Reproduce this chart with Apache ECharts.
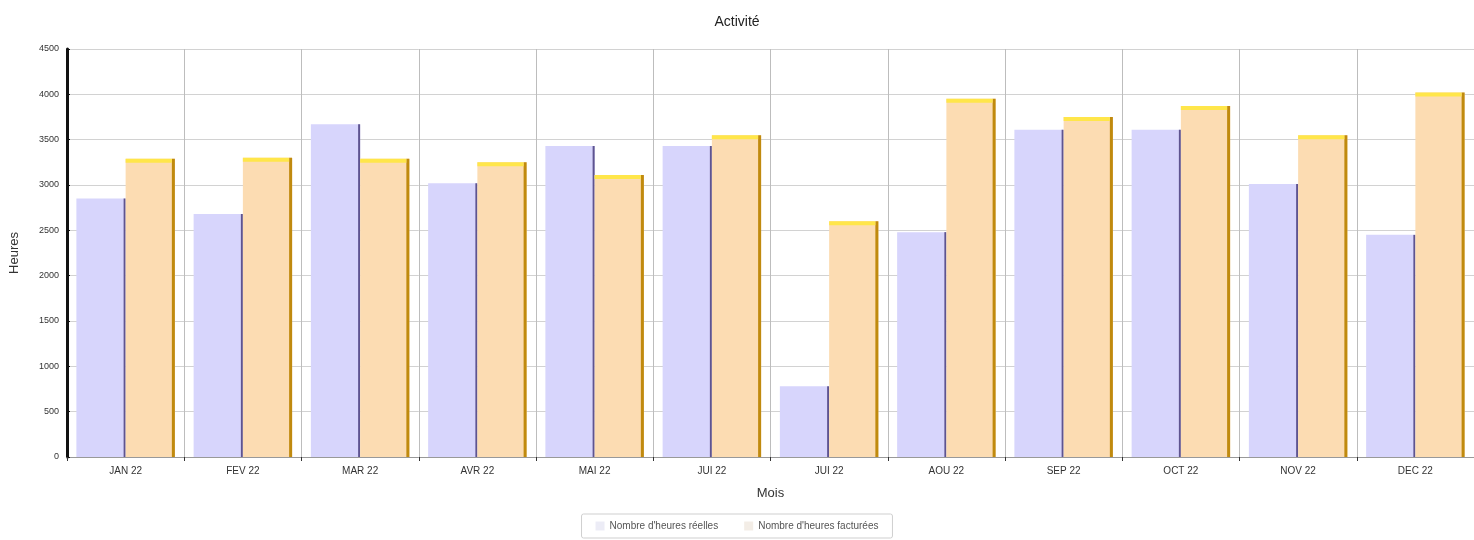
<!DOCTYPE html>
<html lang="fr">
<head>
  <meta charset="UTF-8">
  <title>Activité</title>
  <script src="https://cdn.jsdelivr.net/npm/echarts@6.0.0/dist/echarts.min.js"></script>
  <style>
    body { margin: 0; background: #fff; }
    #chart { width: 1474px; height: 540px; }
  </style>
</head>
<body>
  <div id="chart"></div>
  <script>
    // données
    const mois = ['JAN 22', 'FEV 22', 'MAR 22', 'AVR 22', 'MAI 22', 'JUI 22', 'JUI 22', 'AOU 22', 'SEP 22', 'OCT 22', 'NOV 22', 'DEC 22'];
    const heuresReelles = [2850, 2680, 3670, 3020, 3430, 3430, 780, 2480, 3610, 3610, 3010, 2450];
    const heuresFacturees = [3290, 3300, 3290, 3250, 3110, 3550, 2600, 3950, 3750, 3870, 3550, 4020];
    const yTicks = { min: 0, max: 4500, interval: 500 };

    const couleurs = [
      { fill: '#d7d5fc', edge: '#5e5490', edgeW: 2, top: null },
      { fill: '#fcdcb2', edge: '#c08a0e', edgeW: 3, top: '#ffe64a' }
    ];

    // barres avec effet "3D" : bord droit foncé + liseré en haut
    function renderBar(idx) {
      return function (params, api) {
        const c = couleurs[idx];
        const x = api.value(0), v = api.value(1);
        const top = api.coord([x, v]);
        const base = api.coord([x, 0]);
        const bandW = api.size([1, 0])[0];
        const barW = bandW * 0.42;
        const x0 = idx === 0 ? base[0] - barW : base[0];
        const h = base[1] - top[1];
        const children = [
          { type: 'rect', shape: { x: x0, y: top[1], width: barW, height: h }, style: { fill: c.fill } },
          { type: 'rect', shape: { x: x0 + barW - c.edgeW, y: top[1], width: c.edgeW, height: h }, style: { fill: c.edge } }
        ];
        if (c.top) {
          children.push({ type: 'rect', shape: { x: x0, y: top[1], width: barW - c.edgeW, height: 4 }, style: { fill: c.top } });
        }
        return { type: 'group', children: children };
      };
    }

    const chart = echarts.init(document.getElementById('chart'));
    chart.setOption({
      animation: false,
      title: {
        text: 'Activité',
        left: 'center',
        top: 10,
        textStyle: { fontSize: 14, fontWeight: 'normal', color: '#222', fontFamily: 'Liberation Sans' }
      },
      legend: {
        bottom: 2,
        left: 'center',
        itemWidth: 9,
        itemHeight: 9,
        itemGap: 26,
        padding: [7, 14],
        borderColor: '#cfcfcf',
        borderWidth: 1,
        borderRadius: 2,
        textStyle: { fontSize: 10, color: '#555', fontFamily: 'Liberation Sans' },
        data: [
          { name: "Nombre d'heures réelles", icon: 'rect', itemStyle: { color: '#ececf6' } },
          { name: "Nombre d'heures facturées", icon: 'rect', itemStyle: { color: '#f3ede6' } }
        ]
      },
      grid: { left: 66, right: 0, top: 49, bottom: 83, containLabel: false },
      xAxis: {
        type: 'category',
        data: mois,
        name: 'Mois',
        nameLocation: 'middle',
        nameGap: 30,
        nameTextStyle: { fontSize: 13, color: '#333', fontFamily: 'Liberation Sans' },
        axisLine: { lineStyle: { color: '#999', width: 1 } },
        axisTick: { show: true, length: 4, lineStyle: { color: '#333' } },
        axisLabel: { fontSize: 10, color: '#333', margin: 9, fontFamily: 'Liberation Sans' },
        splitLine: { show: true, lineStyle: { color: '#bdbdbd', width: 1 } }
      },
      yAxis: {
        type: 'value',
        min: yTicks.min,
        max: yTicks.max,
        interval: yTicks.interval,
        name: 'Heures',
        nameLocation: 'middle',
        nameRotate: 90,
        nameGap: 46,
        nameTextStyle: { fontSize: 13, color: '#333', fontFamily: 'Liberation Sans' },
        axisLine: { show: true, lineStyle: { color: '#111', width: 3 } },
        axisTick: { show: true, length: 3, inside: true, lineStyle: { color: '#111' } },
        axisLabel: { fontSize: 9, color: '#333', margin: 8, fontFamily: 'Liberation Sans', formatter: v => String(v) },
        splitLine: { show: true, lineStyle: { color: '#d2d2d2', width: 1 } }
      },
      series: [
        {
          name: "Nombre d'heures réelles",
          type: 'custom',
          renderItem: renderBar(0),
          itemStyle: { color: '#ececf6' },
          encode: { x: 0, y: 1 },
          data: heuresReelles.map((v, i) => [i, v])
        },
        {
          name: "Nombre d'heures facturées",
          type: 'custom',
          renderItem: renderBar(1),
          itemStyle: { color: '#f3ede6' },
          encode: { x: 0, y: 1 },
          data: heuresFacturees.map((v, i) => [i, v])
        }
      ]
    });
  </script>
</body>
</html>
